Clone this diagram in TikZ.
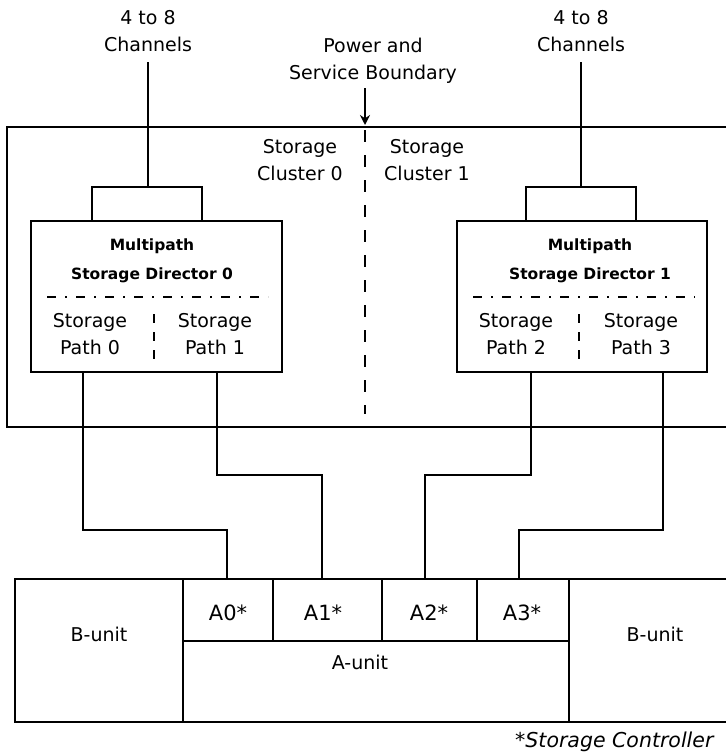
\documentclass[tikz,border=0pt]{standalone}
\usepackage{fontspec}
\setmainfont{DejaVu Sans}
\usetikzlibrary{arrows.meta}
\begin{document}
\begin{tikzpicture}[x=1pt,y=-1pt,
  line width=2.4pt,
  txt/.style={font=\fontsize{19}{27}\selectfont, align=center, inner sep=0pt},
  dtxt/.style={font=\bfseries\fontsize{15.5}{29}\selectfont, align=center, inner sep=0pt},
  ftxt/.style={font=\itshape\fontsize{20.5}{24}\selectfont, inner sep=0pt},
  boxnode/.style={draw, rectangle, inner sep=0pt, outer sep=0pt},
  unitnode/.style={draw, rectangle, inner sep=0pt, outer sep=0pt, line width=2pt},
  openunit/.style={rectangle, inner sep=0pt, outer sep=0pt},
  dashdot/.style={line width=1.8pt, dash pattern=on 9pt off 9pt on 2pt off 9pt},
  divider/.style={line width=1.8pt, dash pattern=on 9pt off 9pt},
  boundary/.style={line width=2pt, dash pattern=on 12pt off 13pt},
  conn/.style={line width=2.4pt}
]
\useasboundingbox (0,0) rectangle (726,755);

% top labels
\node[txt] (ch0) at (148,31) {4 to 8\\Channels};
\node[txt] (ch1) at (581,31) {4 to 8\\Channels};
\node[txt] (psb) at (373,61) {Power and\\Service Boundary};

% outer storage control box (open on the right)
\draw (726,127) -- (7,127) -- (7,427) -- (726,427);

% boundary arrow and dashed boundary
\coordinate (arrtop) at (365,88);
\coordinate (arrbot) at (365,125);
\draw[line width=1.8pt, -{Stealth[length=10pt,width=10pt]}] (arrtop) -- (arrbot);
\coordinate (bdtop) at (365,130);
\coordinate (bdbot) at (365,414);
\draw[boundary] (bdtop) -- (bdbot);

\node[txt] (sc0) at (300,160) {Storage\\Cluster 0};
\node[txt] (sc1) at (427,160) {Storage\\Cluster 1};

% directors
\node[boxnode, minimum width=251pt, minimum height=151pt] (dir0) at (156.5,296.5) {};
\node[boxnode, minimum width=250pt, minimum height=151pt] (dir1) at (582,296.5) {};

\node[dtxt] (d0t) at (152,261) {Multipath\\Storage Director 0};
\node[dtxt] (d1t) at (590,261) {Multipath\\Storage Director 1};

\draw[dashdot] (47,297) -- (268,297);
\draw[dashdot] (473,297) -- (695,297);
\draw[divider] (154,314) -- (154,364);
\draw[divider] (579,314) -- (579,364);

\node[txt] (sp0) at (90,334) {Storage\\Path 0};
\node[txt] (sp1) at (215,334) {Storage\\Path 1};
\node[txt] (sp2) at (516,334) {Storage\\Path 2};
\node[txt] (sp3) at (641,334) {Storage\\Path 3};

% channel brackets
\coordinate (c0top) at (148,62);
\coordinate (c0mid) at (148,187);
\draw[conn] (c0top) -- (c0mid);
\draw[conn] (92,221) -- (92,187) -- (202,187) -- (202,221);
\coordinate (c1top) at (581,62);
\coordinate (c1mid) at (581,187);
\draw[conn] (c1top) -- (c1mid);
\draw[conn] (526,221) -- (526,187) -- (636,187) -- (636,221);

% bottom units
\node[unitnode, minimum width=168pt, minimum height=143pt] (bu0) at (99,650.5) {};
\node[unitnode, minimum width=90pt, minimum height=62pt] (a0) at (228,610) {};
\node[unitnode, minimum width=109pt, minimum height=62pt] (a1) at (327.5,610) {};
\node[unitnode, minimum width=95pt, minimum height=62pt] (a2) at (429.5,610) {};
\node[unitnode, minimum width=92pt, minimum height=62pt] (a3) at (523,610) {};
\node[unitnode, minimum width=386pt, minimum height=81pt] (au) at (376,681.5) {};
\node[openunit, minimum width=157pt, minimum height=143pt] (bu1) at (647.5,650.5) {};
\draw[line width=2pt] (726,579) -- (569,579) -- (569,722) -- (726,722);

\node[txt] at (99,634) {B-unit};
\node[txt, font=\fontsize{21}{25}\selectfont] at (228,613) {A0*};
\node[txt, font=\fontsize{21}{25}\selectfont] at (323,613) {A1*};
\node[txt, font=\fontsize{21}{25}\selectfont] at (429,613) {A2*};
\node[txt, font=\fontsize{21}{25}\selectfont] at (522,613) {A3*};
\node[txt] at (360,662) {A-unit};
\node[txt] at (655,634) {B-unit};

% storage path connectors
\draw[conn] (dir0.south west -| 83,0) -- (83,530) -- (227,530) -- (a0.north west -| 227,0);
\draw[conn] (dir0.south west -| 217,0) -- (217,475) -- (322,475) -- (a1.north west -| 322,0);
\draw[conn] (dir1.south west -| 531,0) -- (531,475) -- (425,475) -- (a2.north west -| 425,0);
\draw[conn] (dir1.south west -| 663,0) -- (663,530) -- (519,530) -- (a3.north west -| 519,0);

\node[ftxt, anchor=west] (fn) at (514,742) {*Storage Controller};
\end{tikzpicture}
\end{document}
